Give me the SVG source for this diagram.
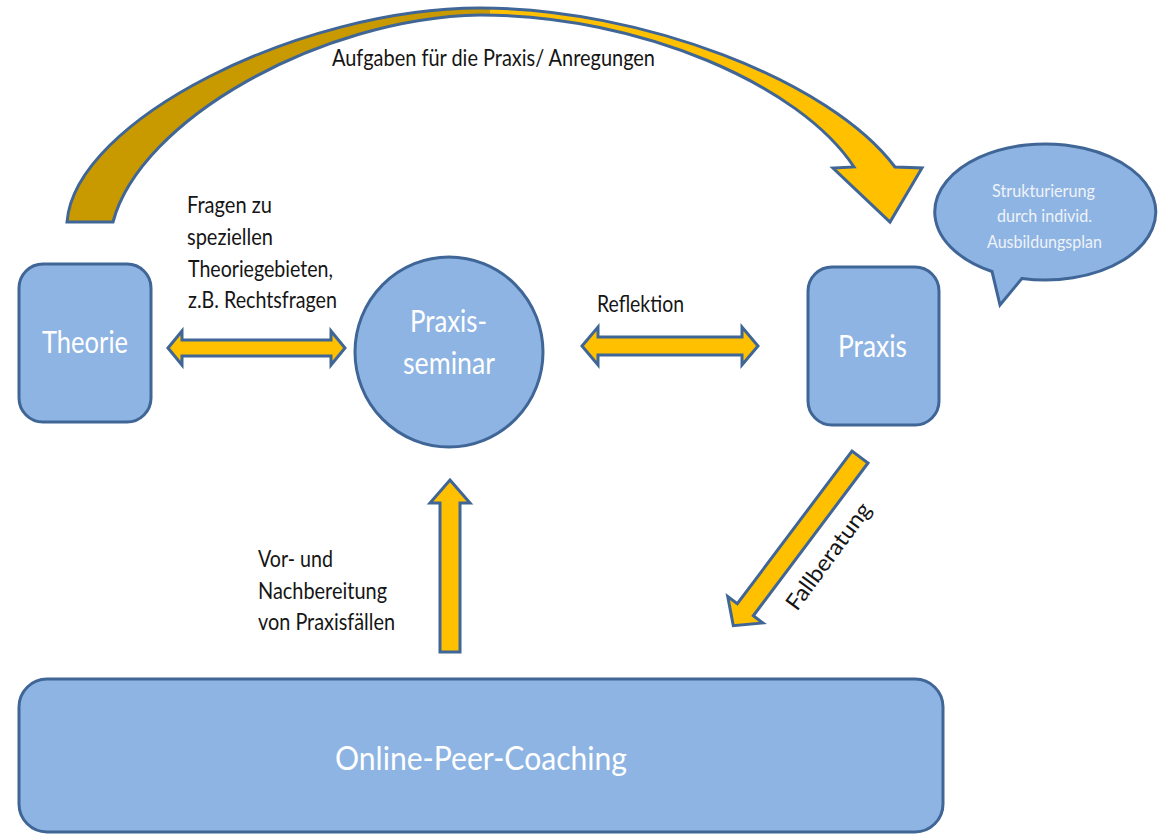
<svg xmlns="http://www.w3.org/2000/svg" width="1158" height="834" viewBox="0 0 1158 834">
  <defs>
    <linearGradient id="arcFill" gradientUnits="userSpaceOnUse" x1="0" y1="0" x2="1158" y2="0">
      <stop offset="0" stop-color="#C99A00"/>
      <stop offset="0.423" stop-color="#C99A00"/>
      <stop offset="0.423" stop-color="#FFC000"/>
      <stop offset="1" stop-color="#FFC000"/>
    </linearGradient>
  </defs>
  <style>
    .box { fill: #8EB4E3; stroke: #3F6696; stroke-width: 3; }
    .arrow { fill: #FFC000; stroke: #3F6696; stroke-width: 3; stroke-linejoin: miter; }
    .lbl { font-family: "Lato", "Liberation Sans", sans-serif; fill: #151515; font-size: 22.5px; }
    .wt { font-family: "Lato", "Liberation Sans", sans-serif; fill: #FFFFFF; }
    .ct { font-family: "Lato", "Liberation Sans", sans-serif; fill: #EEF3F9; font-size: 18px; }
  </style>
  <rect width="1158" height="834" fill="#FFFFFF"/>

  <g id="connectors">
    <path id="curved-arrow" d="M67,222 C75,120 300,8 480,8 C640,8 830,80 895,167 L922,168 L890,222 L833,168 L854,167 C800,85 640,15 480,15 C320,18 140,120 113,222 Z" fill="url(#arcFill)" stroke="#3F6696" stroke-width="3" stroke-linejoin="miter"/>
    <path id="arrow-theorie-seminar" class="arrow" d="M168,348 L182,331 L182,340 L331,340 L331,331 L345,348 L331,365 L331,356 L182,356 L182,365 Z"/>
    <path id="arrow-seminar-praxis" class="arrow" d="M582,346 L598,327 L598,337 L742,337 L742,327 L758,346 L742,365 L742,355 L598,355 L598,365 Z"/>
    <path id="arrow-coaching-seminar" class="arrow" d="M450,480 L470,503 L460,503 L460,652 L440,652 L440,503 L430,503 Z"/>
    <path id="arrow-praxis-coaching" class="arrow" transform="translate(860,457) rotate(126.9)" d="M0,-10 L191,-10 L191,-22 L211,0 L191,22 L191,10 L0,10 Z"/>
  </g>

  <g id="labels">
    <text class="lbl" x="332" y="66" font-size="23.5" textLength="323" lengthAdjust="spacingAndGlyphs">Aufgaben für die Praxis/ Anregungen</text>
    <text class="lbl" x="187" y="213" textLength="85" lengthAdjust="spacingAndGlyphs">Fragen zu</text>
    <text class="lbl" x="187" y="245" textLength="86" lengthAdjust="spacingAndGlyphs">speziellen</text>
    <text class="lbl" x="188" y="277" textLength="145" lengthAdjust="spacingAndGlyphs">Theoriegebieten,</text>
    <text class="lbl" x="188" y="308" textLength="149" lengthAdjust="spacingAndGlyphs">z.B. Rechtsfragen</text>
    <text class="lbl" x="597" y="312" textLength="87" lengthAdjust="spacingAndGlyphs">Reflektion</text>
    <text class="lbl" x="258" y="567" textLength="75" lengthAdjust="spacingAndGlyphs">Vor- und</text>
    <text class="lbl" x="258" y="599" textLength="129" lengthAdjust="spacingAndGlyphs">Nachbereitung</text>
    <text class="lbl" x="258" y="630" textLength="137" lengthAdjust="spacingAndGlyphs">von Praxisfällen</text>
    <text class="lbl" transform="translate(797,612) rotate(-53.7)" x="0" y="0" font-size="21" textLength="127" lengthAdjust="spacingAndGlyphs">Fallberatung</text>
  </g>

  <g id="node-theorie">
    <rect class="box" x="19" y="264" width="132" height="158" rx="24"/>
    <text class="wt" x="42" y="353" font-size="31.5" textLength="86" lengthAdjust="spacingAndGlyphs">Theorie</text>
  </g>

  <g id="node-praxisseminar">
    <ellipse class="box" cx="449" cy="352" rx="94" ry="95"/>
    <text class="wt" x="410" y="332" font-size="30.5" textLength="77" lengthAdjust="spacingAndGlyphs">Praxis-</text>
    <text class="wt" x="403" y="374" font-size="30.5" textLength="92" lengthAdjust="spacingAndGlyphs">seminar</text>
  </g>

  <g id="node-praxis">
    <rect class="box" x="808" y="267" width="131" height="158" rx="24"/>
    <text class="wt" x="838" y="357" font-size="31.5" textLength="69" lengthAdjust="spacingAndGlyphs">Praxis</text>
  </g>

  <g id="node-callout">
    <path class="box" d="M1022,278.4 L1000,305 L992,271.5 A110.5,68 0 1 1 1022,278.4 Z"/>
    <text class="ct" x="992" y="197" textLength="103" lengthAdjust="spacingAndGlyphs">Strukturierung</text>
    <text class="ct" x="997" y="222" textLength="95" lengthAdjust="spacingAndGlyphs">durch individ.</text>
    <text class="ct" x="987" y="248" textLength="115" lengthAdjust="spacingAndGlyphs">Ausbildungsplan</text>
  </g>

  <g id="node-coaching">
    <rect class="box" x="19" y="679" width="924" height="153" rx="28"/>
    <text class="wt" x="335" y="770" font-size="33.5" textLength="292" lengthAdjust="spacingAndGlyphs">Online-Peer-Coaching</text>
  </g>
</svg>
